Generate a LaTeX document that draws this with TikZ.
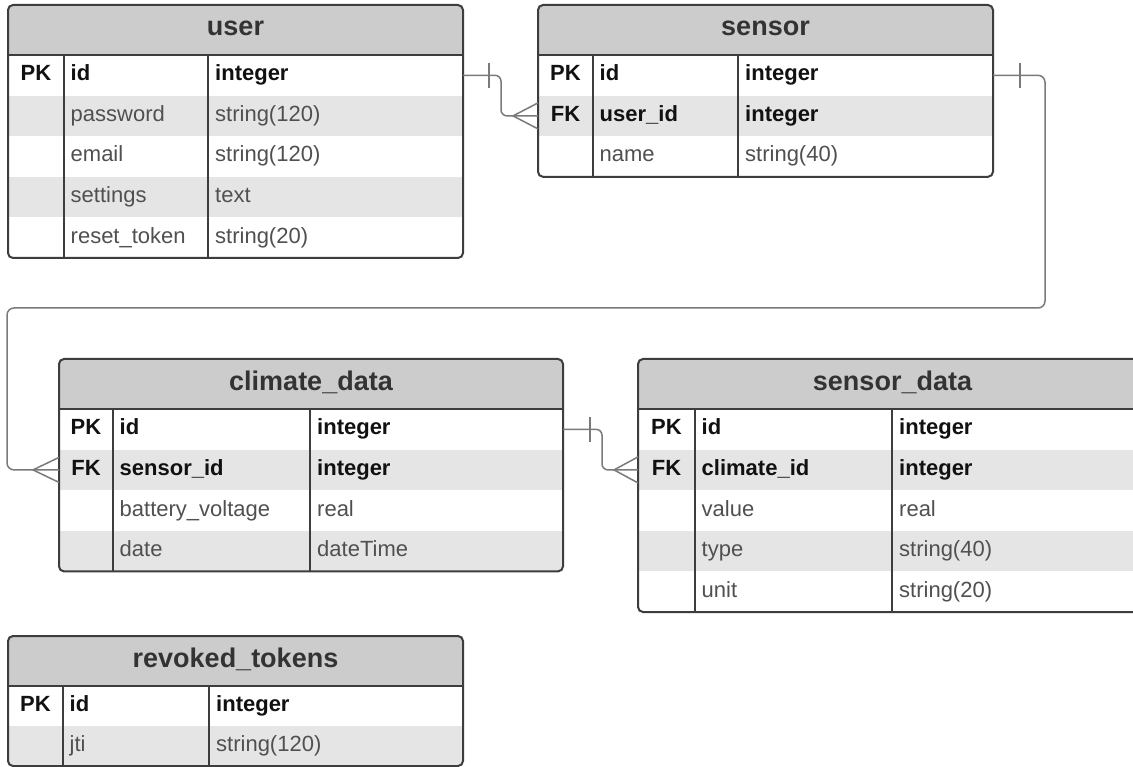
\documentclass[tikz,border=0pt]{standalone}
\usepackage{fontspec}
\setmainfont{Liberation Sans}
\usetikzlibrary{calc}
\definecolor{hdrfill}{HTML}{CCCCCC}
\definecolor{altfill}{HTML}{E5E5E5}
\definecolor{bordercol}{HTML}{3D3D3D}
\definecolor{conncol}{HTML}{7A7A7A}
\definecolor{titlecol}{HTML}{333333}
\definecolor{keycol}{HTML}{111111}
\definecolor{normcol}{HTML}{505050}
\tikzset{
  tborder/.style={draw=bordercol, line width=2pt},
  conn/.style={draw=conncol, line width=1.5pt, rounded corners=6pt},
  titletext/.style={inner sep=0pt, text=titlecol, font=\fontsize{27}{30}\selectfont\bfseries},
  rowb/.style={inner sep=0pt, text=keycol, font=\fontsize{22}{25}\selectfont\bfseries},
  rown/.style={inner sep=0pt, text=normcol, font=\fontsize{22}{25}\selectfont},
}
\def\erRh{40.6}
% #1 name #2 title #3 x0 #4 x1 #5 y0 #6 div1 #7 div2 #8 nrows #9 rows
\newcommand{\erTable}[9]{%
  \pgfmathsetmacro\erHy{#5+50}%
  \pgfmathsetmacro\erYb{#5+50+#8*\erRh}%
  \begin{scope}
    \clip[rounded corners=5pt] (#3,#5) rectangle (#4,\erYb);
    \fill[hdrfill] (#3,#5) rectangle (#4,\erHy);
    \foreach \k/\f/\t/\s [count=\i] in {#9} {
      \pgfmathsetmacro\ya{\erHy+(\i-1)*\erRh}
      \pgfmathsetmacro\yb{\erHy+\i*\erRh}
      \ifodd\i\relax\else \fill[altfill] (#3,\ya) rectangle (#4,\yb);\fi
    }
  \end{scope}
  \draw[tborder, rounded corners=5pt] (#3,#5) rectangle (#4,\erYb);
  \draw[tborder] (#3,\erHy) -- (#4,\erHy);
  \draw[tborder] (#6,\erHy) -- (#6,\erYb);
  \draw[tborder] (#7,\erHy) -- (#7,\erYb);
  \node[titletext, anchor=base] (#1-title) at ({(#3+#4)/2},{#5+31}) {#2};
  \foreach \k/\f/\t/\s [count=\i] in {#9} {
    \pgfmathsetmacro\yc{\erHy+(\i-0.5)*\erRh}
    \coordinate (#1-\i-w) at (#3,\yc);
    \coordinate (#1-\i-e) at (#4,\yc);
    \node[\s, anchor=base] (#1-\i-k) at ({(#3+#6)/2},{\yc+5.5}) {\k};
    \node[\s, anchor=base west] (#1-\i-f) at ({#6+6.5},{\yc+5.5}) {\f};
    \node[\s, anchor=base west] (#1-\i-t) at ({#7+7},{\yc+5.5}) {\t};
  }
}
\begin{document}
\begin{tikzpicture}[x=1pt,y=-1pt]
\useasboundingbox (0,0) rectangle (1133,767);
\clip (0,0) rectangle (1133,767);
\fill[white] (0,0) rectangle (1133,767);

\erTable{user}{user}{8}{463}{5}{64}{208}{5}{%
  PK/id/integer/rowb,
  /password/string(120)/rown,
  /email/string(120)/rown,
  /settings/text/rown,
  /reset\_token/string(20)/rown}

\erTable{sensor}{sensor}{538}{993}{5}{593}{738}{3}{%
  PK/id/integer/rowb,
  FK/user\_id/integer/rowb,
  /name/string(40)/rown}

\erTable{climate}{climate\_data}{59}{563}{359}{113}{310}{4}{%
  PK/id/integer/rowb,
  FK/sensor\_id/integer/rowb,
  /battery\_voltage/real/rown,
  /date/dateTime/rown}

\erTable{sdata}{sensor\_data}{638}{1147}{359}{695}{892}{5}{%
  PK/id/integer/rowb,
  FK/climate\_id/integer/rowb,
  /value/real/rown,
  /type/string(40)/rown,
  /unit/string(20)/rown}

\def\erRh{40}
\erTable{revoked}{revoked\_tokens}{8}{463}{636}{63}{209}{2}{%
  PK/id/integer/rowb,
  /jti/string(120)/rown}

% user -> sensor
\draw[conn] (user-1-e) -- ++(38,0) |- (sensor-2-w);
\draw[conn] ($(user-1-e)+(26,-12.5)$) -- ++(0,25);
\draw[conn, rounded corners=0pt] ($(sensor-2-w)+(0,-13)$) -- ++(-25,13) -- ++(25,13);

% sensor -> climate_data
\draw[conn, rounded corners=7pt] (sensor-1-e) -- ++(52,0) |- (7,308) |- (climate-2-w);
\draw[conn] ($(sensor-1-e)+(27,-12.5)$) -- ++(0,25);
\draw[conn, rounded corners=0pt] ($(climate-2-w)+(0,-12.5)$) -- ++(-26,12.5) -- ++(26,12.5);

% climate_data -> sensor_data
\draw[conn] (climate-1-e) -- ++(39,0) |- (sdata-2-w);
\draw[conn] ($(climate-1-e)+(27,-12.5)$) -- ++(0,25);
\draw[conn, rounded corners=0pt] ($(sdata-2-w)+(0,-13)$) -- ++(-24,13) -- ++(24,13);
\end{tikzpicture}
\end{document}
